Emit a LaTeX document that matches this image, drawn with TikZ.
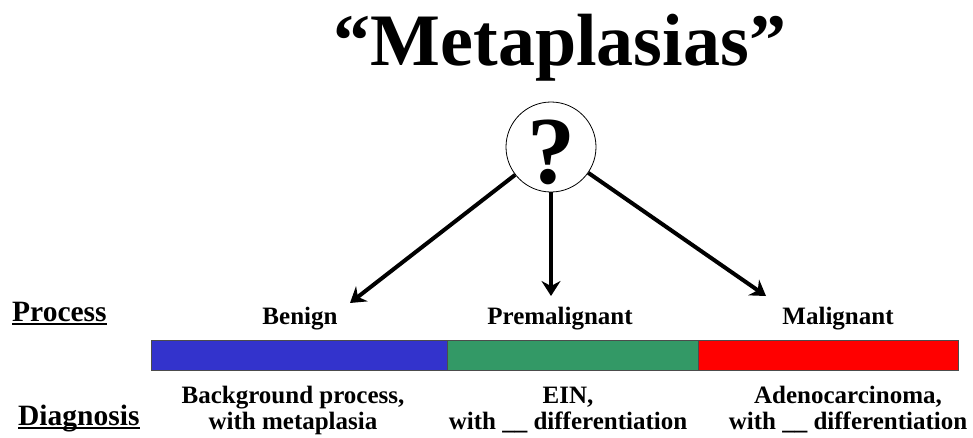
\documentclass[tikz,border=0pt]{standalone}
\usepackage{fontspec}
\setmainfont{Liberation Serif}
\usetikzlibrary{arrows.meta}
\definecolor{barblue}{HTML}{3333CC}
\definecolor{bargreen}{HTML}{339966}
\definecolor{barred}{HTML}{FF0000}
\begin{document}
\begin{tikzpicture}[line cap=butt,line join=miter,>={Stealth[length=15pt,width=19pt,inset=5pt]},x=1pt,y=-1pt]
	\tikzset{lab/.style={inner sep=0pt,anchor=base,align=center,font=\bfseries\fontsize{25}{26}\selectfont},
		head/.style={inner sep=0pt,anchor=base west,font=\bfseries\fontsize{29.5}{30}\selectfont}}
	\useasboundingbox (0,0) rectangle (973,437);
	\node[inner sep=0pt,anchor=base,font=\bfseries\fontsize{74}{74}\selectfont] (ttl) at (560,65) {“Metaplasias”};
	\node[circle,draw,line width=0.8pt,minimum size=90pt,inner sep=0pt,text height=72pt,text depth=0pt,
		font=\bfseries\fontsize{96}{96}\selectfont] (qmark) at (551,147) {?};
	\node[head] (process) at (12,321) {Process};
	\node[head] (diagnosis) at (18,425) {Diagnosis};
	\foreach \n in {process,diagnosis}{
			\draw[line width=2pt] ([yshift=-2.5pt]\n.base west)--([yshift=-2.5pt]\n.base east);}
	\foreach \xa/\xb/\c in {151/447/barblue,447/698/bargreen,698/958/barred}{
			\draw[fill=\c,draw=black!70,line width=0.8pt] (\xa,340) rectangle (\xb,370);}
	\foreach \n/\x/\t in {benign/300/Benign,premal/560/Premalignant,malig/838/Malignant}{
			\node[lab] (\n) at (\x,324) {\t};}
	\node[lab] (bgproc) at (293,429) {Background process,\\with metaplasia};
	\node[lab] (ein) at (568,429) {EIN,\\with \_\_ differentiation};
	\node[lab] (adeno) at (848,429) {Adenocarcinoma,\\with \_\_ differentiation};
	\coordinate (tipb) at (350,303);
	\coordinate (tipp) at (551,296);
	\coordinate (tipm) at (766,296);
	\foreach \t in {tipb,tipp,tipm}{
			\draw[->,line width=4pt] (qmark)--(\t);}
\end{tikzpicture}
\end{document}
